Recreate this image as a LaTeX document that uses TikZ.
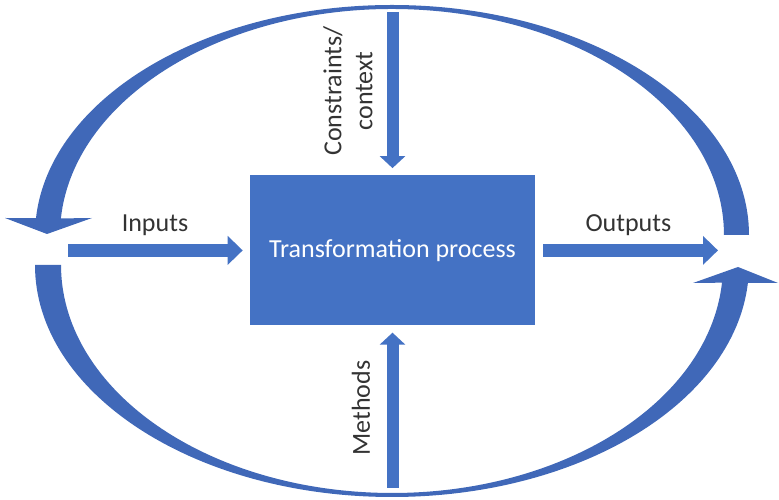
\documentclass[tikz,border=0pt]{standalone}
\usepackage{fontspec}
\setmainfont{Carlito}
\usetikzlibrary{arrows.meta,positioning}
\definecolor{procblue}{HTML}{4472C4}
\definecolor{loopblue}{HTML}{4068B8}

\begin{document}
\begin{tikzpicture}[
  lbl/.style={font=\fontsize{18.5}{22}\selectfont, text=black!80},
  flow/.style={procblue, line width=0.325cm, -{Triangle[width=0.7cm,length=0.375cm]}},
  vflow/.style={procblue, line width=0.3cm, -{Triangle[width=0.625cm,length=0.3cm]}}]
  \useasboundingbox (0,0) rectangle (19.475,12.5);
  % Process box
  \node[fill=procblue, minimum width=7.125cm, minimum height=3.75cm, text=white,
    font=\fontsize{18.5}{22}\selectfont] (proc) at (9.8125,6.24) {Transformation process};
  % Inputs / outputs
  \coordinate (inp) at (1.7,6.24);
  \coordinate (outp) at (17.95,6.24);
  \draw[flow, shorten >=0.175cm] (inp) -- (proc.west);
  \draw[flow, shorten <=0.2cm] (proc.east) -- (outp);
  \node[lbl, anchor=base] (inlbl) at (3.875,6.7) {Inputs};
  \node[lbl, anchor=base] (outlbl) at (15.71,6.7) {Outputs};
  % Constraints / methods
  \coordinate (ctop) at (9.8125,12.2);
  \coordinate (mbot) at (9.8125,0.3);
  \draw[vflow, shorten >=0.175cm] (ctop) -- (proc.north);
  \draw[vflow, shorten >=0.175cm] (mbot) -- (proc.south);
  \node[lbl, rotate=90, align=center] (conlbl) at (8.7,10.225) {Constraints/\\context};
  \node[lbl, rotate=90] (methlbl) at (9.025,2.3) {Methods};
  % Feedback loops
  \fill[loopblue] (18.725,6.625)
    arc[start angle=0, end angle=175.8, x radius=8.925cm, y radius=5.75cm]
    -- (0.125,7.05) -- (1.175,6.65) -- (2.3,7.05) -- (1.522,7.039)
    arc[start angle=175.8, end angle=0, x radius=8.3cm, y radius=5.65cm] -- cycle;
  \fill[loopblue] (0.875,5.875)
    arc[start angle=180, end angle=355.55, x radius=8.925cm, y radius=5.8cm]
    -- (19.45,5.425) -- (18.45,5.825) -- (17.325,5.425) -- (18.05,5.433)
    arc[start angle=355.55, end angle=180, x radius=8.275cm, y radius=5.7cm] -- cycle;
\end{tikzpicture}
\end{document}
